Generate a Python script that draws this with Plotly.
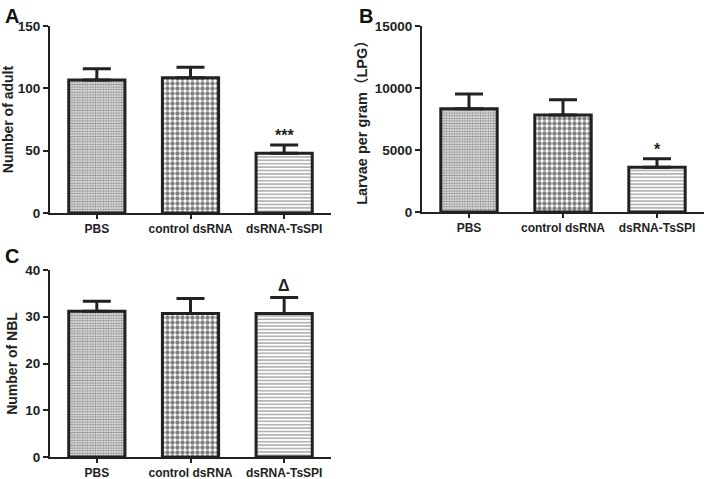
import plotly.graph_objects as go

# ---- data ----
categories = ["PBS", "control dsRNA", "dsRNA-TsSPI"]
adult_mean = [106.7, 108.5, 48.0]
adult_sem = [9.0, 8.5, 6.5]
lpg_mean = [8330, 7820, 3600]
lpg_sem = [1190, 1240, 700]
nbl_mean = [31.2, 30.7, 30.7]
nbl_sem = [2.1, 3.2, 3.4]
adult_ticks = [0, 50, 100, 150]
lpg_ticks = [0, 5000, 10000, 15000]
nbl_ticks = [0, 10, 20, 30, 40]
sig_adult = ["", "", "***"]
sig_lpg = ["", "", "*"]
sig_nbl = ["", "", "Δ"]

W, H = 708, 479
FONT = "Liberation Sans, Arial, Noto Sans CJK SC, sans-serif"
DARK = "#222222"

patterns = [
    dict(shape=".", size=2.6, solidity=0.65, fgcolor="#222222", bgcolor="white"),
    dict(shape=".", size=5, solidity=0.6, fgcolor="#000000", bgcolor="white"),
    dict(shape="-", size=3.4, solidity=0.35, fgcolor="#2a2a2a", bgcolor="white"),
]

def px_x(p):
    return p / W

def px_y(p):
    return 1 - p / H

fig = go.Figure()

panels = [
    ("x", "y", adult_mean, adult_sem, adult_ticks, [0, 150], "Number of adult", sig_adult, (50, 331), (213, 26), 14),
    ("x2", "y2", lpg_mean, lpg_sem, lpg_ticks, [0, 15000], "Larvae per gram（LPG）", sig_lpg, (422, 704), (212, 26), 14.5),
    ("x3", "y3", nbl_mean, nbl_sem, nbl_ticks, [0, 40], "Number of NBL", sig_nbl, (50, 331), (457, 270), 14),
]

annotations = []
for xa, ya, means, sems, ticks, rng, title, sig, xd, yd, tsize in panels:
    for i, cat in enumerate(categories):
        fig.add_trace(go.Bar(
            x=[cat], y=[means[i]], xaxis=xa, yaxis=ya, width=0.6,
            marker=dict(color="white", line=dict(color=DARK, width=3), pattern=patterns[i]),
            error_y=dict(type="data", array=[sems[i]], arrayminus=[0], symmetric=False,
                         color=DARK, thickness=3, width=14),
            showlegend=False, hoverinfo="skip",
        ))
        if sig[i]:
            annotations.append(dict(
                x=cat, y=means[i] + sems[i], xref=xa, yref=ya, text=sig[i],
                showarrow=False, yanchor="bottom", yshift=2 if sig[i] == "Δ" else -1,
                font=dict(family=FONT, size=16, color=DARK, weight="bold"),
            ))
    suffix = xa[1:]
    xkey = "xaxis" + suffix
    ykey = "yaxis" + suffix
    fig.update_layout(**{
        xkey: dict(
            domain=[px_x(xd[0]), px_x(xd[1])], anchor=ya, range=[-0.5, 2.5],
            showline=True, linecolor=DARK, linewidth=2, ticks="outside", ticklen=4,
            tickwidth=1.5, tickcolor=DARK, showgrid=False, zeroline=False,
            automargin=False,
            tickfont=dict(family=FONT, size=12, color=DARK, weight="bold"),
        ),
        ykey: dict(
            domain=[px_y(yd[0]), px_y(yd[1])], anchor=xa, range=rng,
            tickvals=ticks, ticktext=[str(t) for t in ticks],
            showline=True, linecolor=DARK, linewidth=2, ticks="outside", ticklen=5,
            tickwidth=2, tickcolor=DARK, showgrid=False, zeroline=False,
            automargin=False,
            tickfont=dict(family=FONT, size=13.5, color=DARK, weight="bold"),
            title=dict(text=title, standoff=4,
                       font=dict(family=FONT, size=tsize, color=DARK, weight="bold")),
        ),
    })

for lab, x, y in [("A", 3, 3), ("B", 357, 3), ("C", 3, 243)]:
    annotations.append(dict(
        x=px_x(x), y=px_y(y), xref="paper", yref="paper", text=lab,
        showarrow=False, xanchor="left", yanchor="top",
        font=dict(family=FONT, size=20, color="#111111", weight="bold"),
    ))

fig.update_layout(
    width=W, height=H, margin=dict(l=0, r=0, t=0, b=0, autoexpand=False),
    paper_bgcolor="white", plot_bgcolor="white",
    annotations=annotations, bargap=0.4,
)

fig.write_html(
    "out.html",
    config={"displayModeBar": False},
    post_script="document.body.style.margin='0';document.body.style.overflow='hidden';",
)
